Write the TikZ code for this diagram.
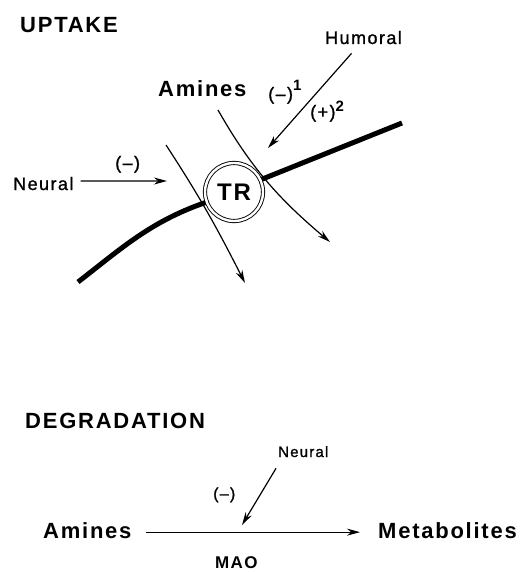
\documentclass[tikz,border=0pt]{standalone}
\usepackage{fontspec}
\usepackage{tikz}
\usetikzlibrary{arrows.meta}
\newfontfamily\labelfont{Liberation Sans}[LetterSpace=8]
\newfontfamily\mediumfont{Liberation Sans}[LetterSpace=8, FakeBold=1.2]

\tikzset{
heading/.style={font=\labelfont\bfseries\fontsize{22}{26}\selectfont, inner sep=0pt, anchor=base west},
compound/.style={font=\labelfont\bfseries\fontsize{22}{26}\selectfont, inner sep=0pt, anchor=base west},
control/.style={font=\mediumfont\fontsize{18}{20}\selectfont, inner sep=0pt, anchor=base west},
flow/.style={-{Stealth[length=13pt,width=7pt]}, line width=1.2pt},
membrane/.style={line width=5pt}
}

\begin{document}
\begin{tikzpicture}[x=1pt, y=-1pt]
\useasboundingbox (0,0) rectangle (526,572);

% Uptake
\node[heading] (uptake) at (20,33) {UPTAKE};
\node[control] (humoral) at (325,44) {Humoral};
\node[compound] (aminesA) at (158,97) {Amines};
\node[control] (minus1) at (268,100)
{(–)\raisebox{9pt}{\labelfont\fontsize{15}{15}\selectfont\bfseries 1}};
\node[control] (plus2) at (310,118)
{(+)\raisebox{6pt}{\labelfont\fontsize{15}{15}\selectfont\bfseries 2}};
\node[control] (neuralA) at (13,190) {Neural};
\node[control] (minusA) at (115,169) {(–)};

\coordinate (humtip) at (268,148);
\coordinate (neurtip) at (167,181);
\coordinate (inL) at (166,145);
\coordinate (outL) at (245,283);
\coordinate (inR) at (218,110);
\coordinate (outR) at (330,242);

% membrane
\draw[membrane] (78,282) .. controls (122,248) and (152,220) .. (210,201);
\draw[membrane] (255,182) -- (402,123);

% amine flux
\draw[flow] (inL) .. controls (200,197) and (217,228) .. (outL);
\draw[flow] (inR) .. controls (251,168) and (279,199) .. (outR);

\node[
draw,
circle,
double,
double distance=2.4pt,
line width=0.9pt,
fill=white,
minimum size=58pt,
font=\labelfont\bfseries\fontsize{24}{26}\selectfont
] (tr) at (234,192) {TR};

% Arrows
\draw[flow] ([xshift=-12pt,yshift=-9pt]humoral.south) -- (humtip);
\draw[flow] ([xshift=7pt,yshift=2.5pt]neuralA.east) -- (neurtip);

% Degradation
\node[heading] (degradation) at (25,428) {DEGRADATION};
\node[control, font=\mediumfont\fontsize{15}{17}\selectfont] (neuralB) at (278,457) {Neural};
\node[control, font=\mediumfont\fontsize{16}{18}\selectfont] (minusB) at (213,499) {(–)};
\node[compound] (aminesB) at (43,538) {Amines};
\node[compound] (metab) at (378,538) {Metabolites};
\node[control, font=\labelfont\bfseries\fontsize{17}{19}\selectfont] (mao) at (215,568) {MAO};

\coordinate (maotip) at (242,525);

\draw[flow] ([xshift=14pt,yshift=-2pt]aminesB.east) -- ([xshift=-18pt,yshift=-2pt]metab.west);
\draw[flow] ([xshift=-2pt,yshift=-11pt]neuralB.south west) -- (maotip);

\end{tikzpicture}
\end{document}
